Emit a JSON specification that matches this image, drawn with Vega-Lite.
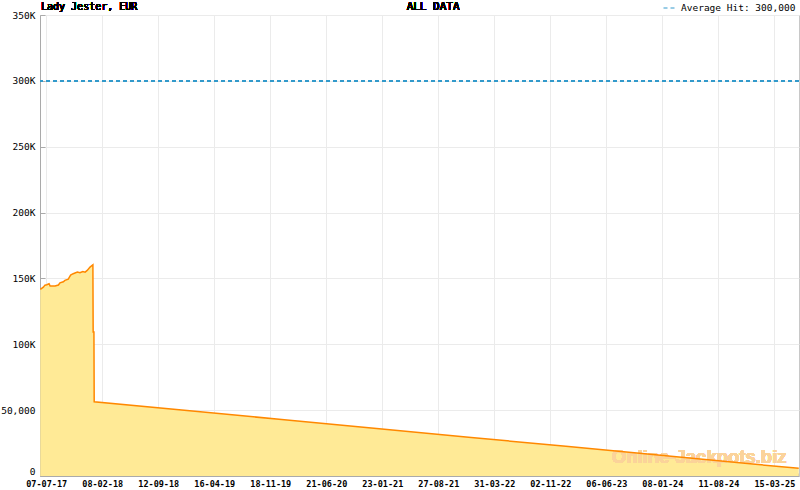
{
  "$schema": "https://vega.github.io/schema/vega-lite/v6.json",
  "autosize": {"type": "none"},
  "padding": {"left": 40, "top": 15, "right": 1, "bottom": 14},
  "width": 759,
  "height": 461,
  "background": "#ffffff",
  "config": {"view": {"stroke": "#c8c8c8"}},
  "data": {"values": [
    {"date": "2017-06-14", "value": 141700},
    {"date": "2017-06-26", "value": 143400},
    {"date": "2017-07-02", "value": 144900},
    {"date": "2017-07-09", "value": 145200},
    {"date": "2017-07-18", "value": 146000},
    {"date": "2017-07-22", "value": 144200},
    {"date": "2017-08-10", "value": 144200},
    {"date": "2017-08-23", "value": 145000},
    {"date": "2017-08-29", "value": 146700},
    {"date": "2017-09-11", "value": 147500},
    {"date": "2017-09-17", "value": 148500},
    {"date": "2017-09-30", "value": 149500},
    {"date": "2017-10-09", "value": 152500},
    {"date": "2017-10-19", "value": 153600},
    {"date": "2017-11-04", "value": 154800},
    {"date": "2017-11-14", "value": 154300},
    {"date": "2017-11-25", "value": 155300},
    {"date": "2017-12-04", "value": 154800},
    {"date": "2017-12-12", "value": 156100},
    {"date": "2017-12-23", "value": 158600},
    {"date": "2018-01-03", "value": 160400},
    {"date": "2018-01-04", "value": 109300},
    {"date": "2018-01-07", "value": 109300},
    {"date": "2018-01-08", "value": 56300},
    {"date": "2019-01-01", "value": 49700},
    {"date": "2020-01-01", "value": 42900},
    {"date": "2021-01-01", "value": 36100},
    {"date": "2022-01-01", "value": 29300},
    {"date": "2023-01-01", "value": 22500},
    {"date": "2024-01-01", "value": 15700},
    {"date": "2025-01-01", "value": 8900},
    {"date": "2025-06-17", "value": 5800}
  ]},
  "resolve": {"axis": {"x": "independent"}},
  "layer": [
    {
      "mark": {"type": "area", "color": "#ffea96", "opacity": 1},
      "encoding": {
        "x": {"field": "date", "type": "temporal",
          "scale": {"type": "utc", "domain": [1497312000000, 1750204800000]},
          "axis": {"title": null, "orient": "bottom", "format": "%d-%m-%y",
            "values": [1499385600000, 1518048000000, 1536710400000, 1555372800000, 1574035200000, 1592697600000, 1611360000000, 1630022400000, 1648684800000, 1667347200000, 1686009600000, 1704672000000, 1723334400000, 1741996800000],
            "tickSize": -5, "tickColor": "#aaaaaa", "domainColor": "#aaaaaa",
            "grid": true, "gridColor": "#ebebeb",
            "labelFont": "DejaVu Sans Mono", "labelFontWeight": "bold", "labelFontSize": 8.5, "labelColor": "#000000",
            "labelPadding": 8, "labelFlush": false, "labelOverlap": false}},
        "y": {"field": "value", "type": "quantitative",
          "scale": {"domain": [0, 350000], "nice": false, "zero": true},
          "axis": {"title": null, "values": [0, 50000, 100000, 150000, 200000, 250000, 300000, 350000],
            "labelExpr": "datum.value == 0 ? '0' : datum.value == 50000 ? '50,000' : (datum.value / 1000) + 'K'",
            "tickSize": -5, "tickColor": "#aaaaaa", "domainColor": "#aaaaaa",
            "grid": true, "gridColor": "#ebebeb",
            "labelFont": "DejaVu Sans Mono", "labelFontSize": 9.5, "labelColor": "#000000",
            "labelPadding": 10, "labelFlush": false,
            "labelOffset": {"condition": {"test": "datum.value == 0", "value": -5}, "value": 0}}}
      }
    },
    {
      "mark": {"type": "text", "font": "Liberation Sans", "fontWeight": "bold", "fontSize": 18.5, "fill": "#fbd39b", "opacity": 1, "align": "center", "baseline": "middle"},
      "encoding": {
        "x": {"datum": 1716940800000, "type": "temporal", "axis": null},
        "y": {"datum": 14400, "type": "quantitative"},
        "text": {"value": "Online-Jackpots.biz"}
      }
    },
    {
      "mark": {"type": "line", "color": "#ff8800", "strokeWidth": 1.5},
      "encoding": {
        "x": {"field": "date", "type": "temporal",
          "axis": {"title": null, "orient": "bottom", "labels": false, "domain": false, "grid": false,
            "tickSize": -3, "tickColor": "#aaaaaa",
            "values": [1502064000000, 1504742400000, 1507420800000, 1510012800000, 1512691200000, 1515369600000,
              1520726400000, 1523404800000, 1526083200000, 1528675200000, 1531353600000, 1534032000000,
              1539388800000, 1542067200000, 1544745600000, 1547337600000, 1550016000000, 1552694400000,
              1558051200000, 1560729600000, 1563408000000, 1566000000000, 1568678400000, 1571356800000,
              1576713600000, 1579392000000, 1582070400000, 1584662400000, 1587340800000, 1590019200000,
              1595376000000, 1598054400000, 1600732800000, 1603324800000, 1606003200000, 1608681600000,
              1614038400000, 1616716800000, 1619395200000, 1621987200000, 1624665600000, 1627344000000,
              1632700800000, 1635379200000, 1638057600000, 1640649600000, 1643328000000, 1646006400000,
              1651363200000, 1654041600000, 1656720000000, 1659312000000, 1661990400000, 1664668800000,
              1670025600000, 1672704000000, 1675382400000, 1677974400000, 1680652800000, 1683331200000,
              1688688000000, 1691366400000, 1694044800000, 1696636800000, 1699315200000, 1701993600000,
              1707350400000, 1710028800000, 1712707200000, 1715299200000, 1717977600000, 1720656000000,
              1726012800000, 1728691200000, 1731369600000, 1733961600000, 1736640000000, 1739318400000,
              1744675200000, 1747353600000, 1750032000000]}},
        "y": {"field": "value", "type": "quantitative"}
      }
    },
    {
      "mark": {"type": "rule", "strokeDash": [4, 3], "strokeWidth": 1},
      "encoding": {
        "y": {"datum": 300000, "type": "quantitative"},
        "color": {"datum": "Average Hit: 300,000", "type": "nominal",
          "scale": {"range": ["#3399cc"]},
          "legend": {"title": null, "orient": "none", "legendX": 623, "legendY": -14, "padding": 0,
            "symbolType": "stroke", "symbolSize": 169, "symbolStrokeWidth": 1, "symbolDash": [4, 3],
            "labelFont": "DejaVu Sans Mono", "labelFontSize": 9.5, "labelColor": "#000000", "labelOffset": 4}}
      }
    },
    {
      "mark": {"type": "text", "font": "DejaVu Sans Mono", "fontSize": 11, "color": "#000000", "align": "center", "baseline": "middle", "dy": -8},
      "encoding": {
        "x": {"datum": 1628294400000, "type": "temporal", "axis": null},
        "y": {"datum": 350000, "type": "quantitative"},
        "text": {"value": "ALL DATA"}
      }
    },
    {
      "mark": {"type": "text", "font": "DejaVu Sans Mono", "fontSize": 10, "color": "#000000", "align": "left", "baseline": "middle", "dy": -8, "dx": 1},
      "encoding": {
        "x": {"datum": 1497312000000, "type": "temporal", "axis": null},
        "y": {"datum": 350000, "type": "quantitative"},
        "text": {"value": "Lady Jester, EUR"}
      }
    }
  ]
}
